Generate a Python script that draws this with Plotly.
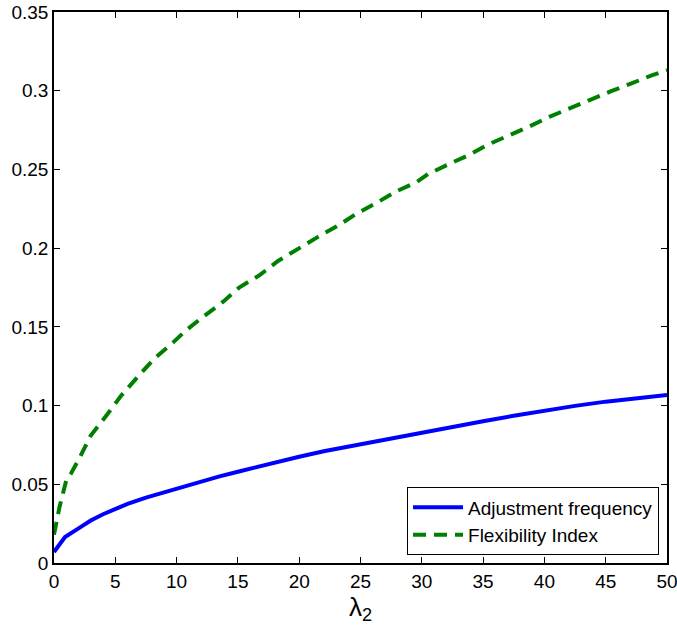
import plotly.graph_objects as go

# Adjustment frequency as a function of lambda_2
lam_adj = [0, 0.9, 2, 3, 4, 5, 6, 7.5, 9, 10.5, 12, 13.5, 15, 16.5, 18, 20,
           22, 24, 26, 28, 30, 32.5, 35, 37.5, 40, 42.5, 45, 47.5, 50]
adj_freq = [0.007, 0.0165, 0.022, 0.027, 0.031, 0.0345, 0.0375, 0.0415, 0.045,
            0.0485, 0.052, 0.055, 0.058, 0.061, 0.064, 0.0675, 0.071, 0.074,
            0.077, 0.080, 0.0828, 0.0865, 0.09, 0.0935, 0.0968, 0.0998,
            0.1025, 0.1048, 0.1067]

# Flexibility index as a function of lambda_2
lam_flex = [0, 0.45, 1.0, 1.4, 2.1, 3.0, 4.4, 5.5, 6.8, 8.2, 9.7, 10.8, 12.1,
            13.8, 15.1, 16.8, 18.3, 19.9, 21.5, 23.2, 24.7, 26.3, 27.9, 29.6,
            30.5, 32.1, 33.8, 35.4, 37.2, 38.8, 40.4, 42.1, 43.7, 45.5, 47.1,
            48.75, 50]
flex_idx = [0.018, 0.0356, 0.0525, 0.057, 0.067, 0.081, 0.095, 0.1065, 0.118,
            0.13, 0.14, 0.148, 0.156, 0.166, 0.175, 0.183, 0.192, 0.1997,
            0.207, 0.2145, 0.222, 0.2287, 0.236, 0.242, 0.247, 0.253, 0.259,
            0.2658, 0.2717, 0.2774, 0.2834, 0.289, 0.2946, 0.2999, 0.3046,
            0.3098, 0.313]

x_ticks = [0, 5, 10, 15, 20, 25, 30, 35, 40, 45, 50]
y_ticks = [0, 0.05, 0.1, 0.15, 0.2, 0.25, 0.3, 0.35]
y_labels = ["0", "0.05", "0.1", "0.15", "0.2", "0.25", "0.3", "0.35"]

FONT = "Liberation Sans, Arial, sans-serif"

fig = go.Figure()
fig.add_trace(go.Scatter(
    x=lam_adj, y=adj_freq, mode="lines", name="Adjustment frequency",
    line=dict(color="#0000FF", width=4),
))
fig.add_trace(go.Scatter(
    x=lam_flex, y=flex_idx, mode="lines", name="Flexibility Index",
    line=dict(color="#008000", width=4, dash="13px,8px"),
))

axis_common = dict(
    showline=True, linecolor="black", linewidth=1.5, mirror="ticks",
    ticks="inside", ticklen=6, tickwidth=1, tickcolor="black",
    showgrid=False, zeroline=False, automargin=False,
    ticklabeloverflow="allow",
    tickfont=dict(family=FONT, size=19, color="black"),
)

fig.update_xaxes(
    range=[0, 50], tickvals=x_ticks, ticktext=[str(v) for v in x_ticks],
    title=dict(text="λ<sub>2</sub>", font=dict(family=FONT, size=26, color="black"),
               standoff=4),
    **axis_common,
)
fig.update_yaxes(
    range=[0, 0.35], tickvals=y_ticks, ticktext=y_labels,
    **axis_common,
)

fig.update_layout(
    width=677, height=637,
    margin=dict(l=54, r=10, t=12, b=74),
    paper_bgcolor="white", plot_bgcolor="white",
    font=dict(family=FONT, color="black"),
    legend=dict(
        x=0.987, y=0.014, xanchor="right", yanchor="bottom",
        bgcolor="white", bordercolor="black", borderwidth=1,
        font=dict(family=FONT, size=19, color="black"),
        tracegroupgap=2, itemwidth=50,
    ),
    showlegend=True,
)

fig.write_html("out.html")
